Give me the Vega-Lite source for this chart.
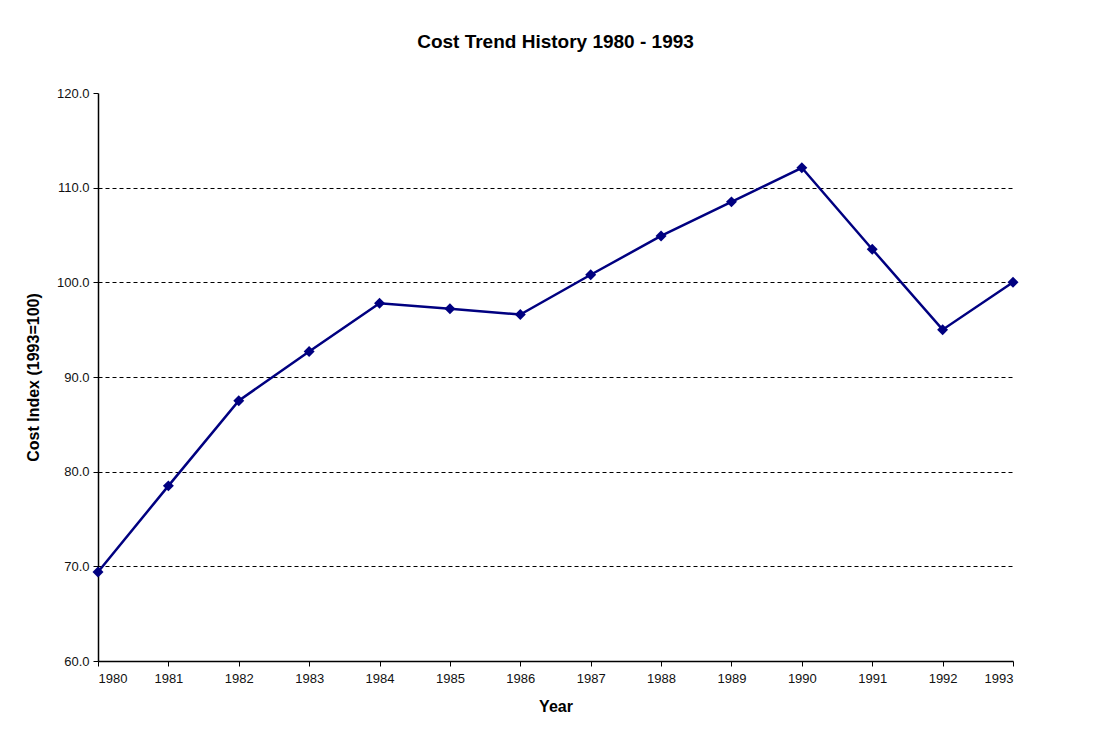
{
  "$schema": "https://vega.github.io/schema/vega-lite/v6.json",
  "width": 915,
  "height": 568,
  "autosize": {"type": "none"},
  "padding": {"left": 98, "top": 93, "right": 92, "bottom": 68},
  "background": "white",
  "title": {
    "text": "Cost Trend History 1980 - 1993",
    "font": "Liberation Sans",
    "fontSize": 19,
    "fontWeight": "bold",
    "color": "#000000",
    "anchor": "middle",
    "offset": 35
  },
  "data": {
    "values": [
      {"year": 1980, "index": 69.4},
      {"year": 1981, "index": 78.5},
      {"year": 1982, "index": 87.5},
      {"year": 1983, "index": 92.7},
      {"year": 1984, "index": 97.8},
      {"year": 1985, "index": 97.2},
      {"year": 1986, "index": 96.6},
      {"year": 1987, "index": 100.8},
      {"year": 1988, "index": 104.9},
      {"year": 1989, "index": 108.5},
      {"year": 1990, "index": 112.1},
      {"year": 1991, "index": 103.5},
      {"year": 1992, "index": 95.0},
      {"year": 1993, "index": 100.0}
    ]
  },
  "encoding": {
    "x": {
      "field": "year",
      "type": "quantitative",
      "scale": {"domain": [1980, 1993], "nice": false, "zero": false},
      "axis": {
        "values": [1980, 1981, 1982, 1983, 1984, 1985, 1986, 1987, 1988, 1989, 1990, 1991, 1992, 1993],
        "format": "d",
        "grid": false,
        "title": "Year",
        "titleFont": "Liberation Sans",
        "titleFontSize": 16,
        "titleFontWeight": "bold",
        "titleColor": "#000000",
        "titleY": 45,
        "titleBaseline": "middle",
        "labelFont": "Liberation Sans",
        "labelFontSize": 13,
        "labelColor": "#111111",
        "labelPadding": 6,
        "tickSize": 5,
        "tickColor": "#000000",
        "domainColor": "#000000",
        "domainWidth": 1.5
      }
    },
    "y": {
      "field": "index",
      "type": "quantitative",
      "scale": {"domain": [60, 120], "nice": false, "zero": false},
      "axis": {
        "values": [60, 70, 80, 90, 100, 110, 120],
        "format": ".1f",
        "grid": true,
        "gridColor": "#000000",
        "gridDash": [4, 3],
        "gridWidth": 1,
        "gridOpacity": {"condition": {"test": "datum.value == 120 || datum.value == 60", "value": 0}, "value": 1},
        "title": "Cost Index (1993=100)",
        "titleFont": "Liberation Sans",
        "titleFontSize": 16,
        "titleFontWeight": "bold",
        "titleColor": "#000000",
        "titleX": -65,
        "titleY": 284,
        "titleAlign": "center",
        "titleBaseline": "middle",
        "titleAngle": -90,
        "labelFont": "Liberation Sans",
        "labelFontSize": 13,
        "labelColor": "#111111",
        "labelPadding": 4,
        "tickSize": 5,
        "tickColor": "#000000",
        "domainColor": "#000000",
        "domainWidth": 1.5
      }
    }
  },
  "layer": [
    {"mark": {"type": "line", "color": "#000080", "strokeWidth": 2.5}},
    {"mark": {"type": "point", "shape": "diamond", "filled": true, "size": 120, "color": "#000080", "opacity": 1}}
  ],
  "config": {"view": {"stroke": null}}
}
